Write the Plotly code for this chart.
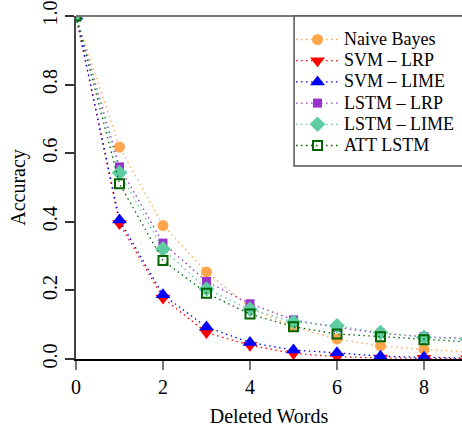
import plotly.graph_objects as go

deleted_words = [0, 1, 2, 3, 4, 5, 6, 7, 8, 9]
naive_bayes = [1.0, 0.618, 0.389, 0.254, 0.150, 0.094, 0.058, 0.038, 0.028, 0.020]
svm_lrp = [1.0, 0.395, 0.178, 0.077, 0.040, 0.016, 0.007, 0.003, 0.002, 0.001]
svm_lime = [1.0, 0.405, 0.187, 0.093, 0.048, 0.026, 0.018, 0.008, 0.005, 0.003]
lstm_lrp = [1.0, 0.560, 0.338, 0.226, 0.161, 0.114, 0.092, 0.075, 0.065, 0.060]
lstm_lime = [1.0, 0.543, 0.321, 0.204, 0.145, 0.108, 0.097, 0.077, 0.063, 0.058]
att_lstm = [1.0, 0.511, 0.287, 0.192, 0.131, 0.094, 0.073, 0.065, 0.056, 0.050]
tick_labels_y = ["0.0", "0.2", "0.4", "0.6", "0.8", "1.0"]

series = [
    ("Naive Bayes", naive_bayes, "#FFA64D", "circle", 11),
    ("SVM – LRP", svm_lrp, "#FF0000", "triangle-down", 13),
    ("SVM – LIME", svm_lime, "#0000FF", "triangle-up", 13),
    ("LSTM – LRP", lstm_lrp, "#9932CC", "square", 9),
    ("LSTM – LIME", lstm_lime, "#5ECBA1", "diamond", 12),
    ("ATT LSTM", att_lstm, "#006400", "square-open", 9),
]

FONT = "Liberation Serif"
fig = go.Figure()
for name, vals, color, sym, size in series:
    fig.add_trace(go.Scatter(
        x=deleted_words, y=vals,
        name='<span style="font-size:18px">' + name + '</span>',
        mode="lines+markers",
        line=dict(color=color, width=1.3, dash="1.5px,3.5px"),
        marker=dict(symbol=sym, size=size, color=color,
                    line=dict(width=2 if sym == "square-open" else 0, color=color)),
        cliponaxis=True,
    ))

fig.update_layout(
    width=462, height=429,
    margin=dict(l=76, r=0, t=16, b=70),
    plot_bgcolor="white", paper_bgcolor="white",
    font=dict(family=FONT, size=20, color="black"),
    showlegend=True,
    legend=dict(
        x=0.557, y=0.977, xanchor="left", yanchor="top",
        borderwidth=0, bgcolor="rgba(255,255,255,0)",
        font=dict(family=FONT, size=14), itemwidth=43,
        tracegroupgap=0,
    ),
    xaxis=dict(
        range=[0, 8.874], tickvals=[0, 2, 4, 6, 8], showgrid=False, zeroline=False,
        showline=True, linecolor="black", linewidth=1.5,
        ticks="outside", ticklen=9, tickcolor="#777777", tickwidth=1.5,
        title=dict(text="Deleted Words", standoff=12, font=dict(size=20)),
        tickfont=dict(size=20),
    ),
    yaxis=dict(
        range=[0, 1.0], tickvals=[0, 0.2, 0.4, 0.6, 0.8, 1.0],
        ticktext=tick_labels_y, ticklabeloverflow="allow",
        tickangle=-90, showgrid=False, zeroline=False,
        showline=True, linecolor="#444444", linewidth=2,
        ticks="outside", ticklen=9, tickcolor="#333333", tickwidth=1.5,
        title=dict(text="Accuracy", standoff=8, font=dict(size=20)),
        tickfont=dict(size=20),
    ),
    shapes=[
        dict(type="line", xref="paper", yref="paper", x0=0, x1=1, y0=1, y1=1,
             line=dict(color="#777777", width=2)),
        dict(type="rect", xref="paper", yref="paper", x0=0.565, x1=1.05,
             y0=0.5627, y1=1, layer="above", fillcolor="white",
             line=dict(color="#555555", width=1.5)),
    ],
)

fig.write_html("out.html", config={"displayModeBar": False},
               post_script="document.body.style.margin='0';")
